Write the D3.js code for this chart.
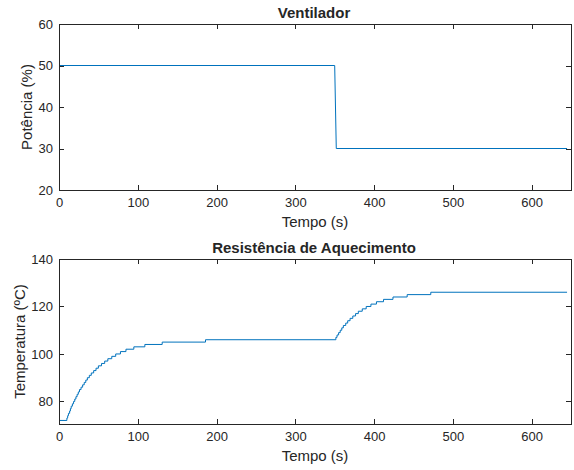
<!DOCTYPE html>
<html>
<head>
<meta charset="utf-8">
<script src="https://cdn.jsdelivr.net/npm/d3@7"></script>
<style>
  body { margin: 0; background: #fff; }
  text { font-family: "Liberation Sans", Arial, sans-serif; fill: #262626; }
</style>
</head>
<body>
<svg id="chart" width="574" height="470"></svg>
<script>
(function() {
  'use strict';

  // Ventilador: fan power (%)
  var fanTime = [0, 350, 352, 645];
  var fanPower = [50, 50, 30, 30];

  // Resistencia: temperature steps (time at which each new value appears)
  var tempTime = [0, 10, 11, 12, 13.5, 14.5, 15.5, 17, 18.5, 20, 21.5, 23, 24.5, 26, 28, 30, 32, 34, 36,
    38.5, 41, 44, 47, 50, 54, 58, 62, 67, 72, 78, 85, 95, 109, 131, 186,
    351.5, 353, 355, 357, 359, 361, 364, 366.5, 369.5, 373, 376.5, 380, 385, 390, 396, 403, 412, 424, 442, 472, 645];
  var tempValue = [72, 73, 74, 75, 76, 77, 78, 79, 80, 81, 82, 83, 84, 85, 86, 87, 88, 89, 90,
    91, 92, 93, 94, 95, 96, 97, 98, 99, 100, 101, 102, 103, 104, 105, 106,
    107, 108, 109, 110, 111, 112, 113, 114, 115, 116, 117, 118, 119, 120, 121, 122, 123, 124, 125, 126, 126];

  var xTicks = [0, 100, 200, 300, 400, 500, 600];
  var fanTicks = [20, 30, 40, 50, 60];
  var tempTicks = [80, 100, 120, 140];

  var axisColor = '#262626',
    lineColor = '#0072BD',
    left = 59,
    right = 571,
    tickLen = 5;

  var svg = d3.select('#chart');

  var panel = function(opts) {
    var x = d3.scaleLinear().domain([0, 650]).range([left, right]);
    var y = d3.scaleLinear().domain(opts.yDomain).range([opts.bottom, opts.top]);
    var g = svg.append('g');

    // data line first so the box sits on top
    var line = d3.line()
      .x(function(d) { return x(d[0]); })
      .y(function(d) { return y(d[1]); })
      .curve(opts.curve || d3.curveLinear);
    g.append('path')
      .datum(d3.zip(opts.xs, opts.ys))
      .attr('d', line)
      .attr('fill', 'none')
      .attr('stroke', lineColor)
      .attr('stroke-width', 1);

    var axisB = d3.axisBottom(x).tickValues(xTicks).tickSize(-tickLen).tickPadding(8).tickSizeOuter(0);
    var axisT = d3.axisTop(x).tickValues(xTicks).tickSize(-tickLen).tickFormat('').tickSizeOuter(0);
    var axisL = d3.axisLeft(y).tickValues(opts.yTicks).tickSize(-tickLen).tickPadding(6).tickSizeOuter(0);
    var axisR = d3.axisRight(y).tickValues(opts.yTicks).tickSize(-tickLen).tickFormat('').tickSizeOuter(0);

    var draw = function(axis, transform) {
      var a = g.append('g').attr('transform', transform).call(axis);
      a.selectAll('path, line').attr('stroke', axisColor).attr('shape-rendering', 'crispEdges');
      a.selectAll('text').style('font-size', '13px').attr('fill', axisColor)
        .style('font-family', '"Liberation Sans", Arial, sans-serif');
      return a;
    };
    draw(axisB, 'translate(0,' + opts.bottom + ')');
    draw(axisT, 'translate(0,' + opts.top + ')');
    draw(axisL, 'translate(' + left + ',0)');
    draw(axisR, 'translate(' + right + ',0)');

    g.append('text')
      .attr('x', (left + right) / 2 - 1)
      .attr('y', opts.top - 6)
      .attr('text-anchor', 'middle')
      .style('font-size', '15px')
      .style('font-weight', 'bold')
      .text(opts.title);

    g.append('text')
      .attr('x', (left + right) / 2)
      .attr('y', opts.bottom + 37)
      .attr('text-anchor', 'middle')
      .style('font-size', '15px')
      .text('Tempo (s)');

    g.append('text')
      .attr('transform', 'translate(' + opts.yLabelX + ',' + (opts.top + opts.bottom) / 2 + ') rotate(-90)')
      .attr('text-anchor', 'middle')
      .style('font-size', '15px')
      .text(opts.yLabel);
  };

  panel({
    top: 24, bottom: 190, yDomain: [20, 60], yTicks: fanTicks,
    xs: fanTime, ys: fanPower,
    title: 'Ventilador', yLabel: 'Potência (%)', yLabelX: 31.5
  });

  panel({
    top: 259, bottom: 424, yDomain: [70.5, 140], yTicks: tempTicks,
    xs: tempTime, ys: tempValue, curve: d3.curveStepAfter,
    title: 'Resistência de Aquecimento', yLabel: 'Temperatura (ºC)', yLabelX: 24.5
  });
}).call(this);
</script>
</body>
</html>
